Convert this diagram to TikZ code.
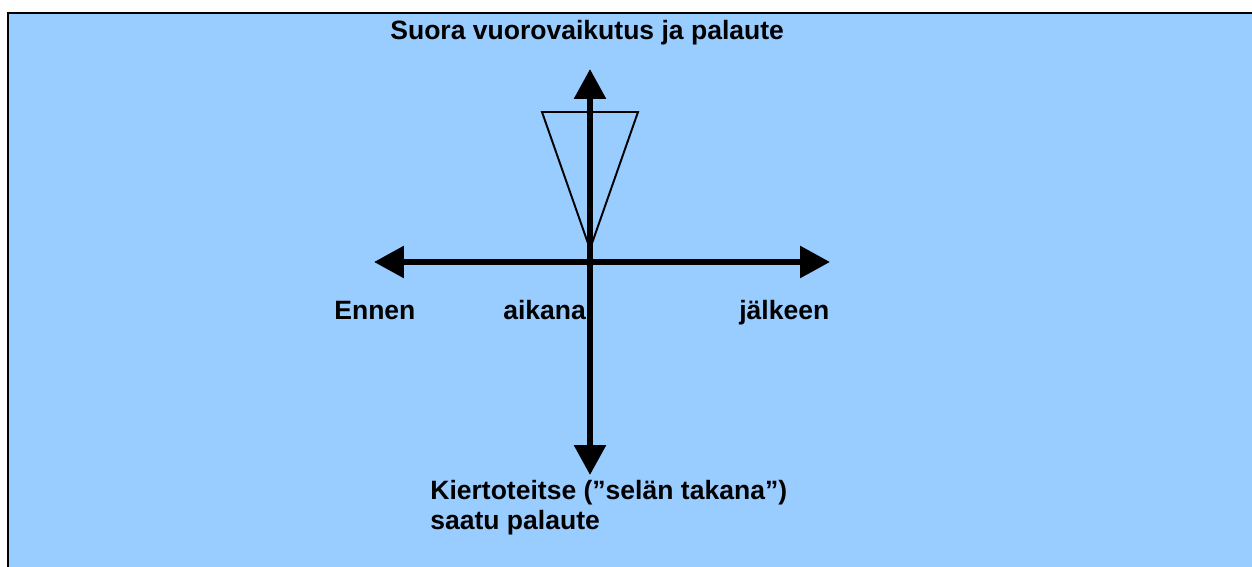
\documentclass[tikz,border=0pt]{standalone}
\usepackage{fontspec}
\setmainfont{Liberation Sans}
\usetikzlibrary{arrows.meta}
\definecolor{bgblue}{HTML}{99CCFF}
\tikzset{
  axisline/.style={line width=3.4pt, -{Triangle[length=0.6cm,width=0.62cm]}},
  thinline/.style={line width=1.1pt},
  lbl/.style={font=\fontsize{15.1}{18}\selectfont\bfseries, inner sep=0pt, anchor=base west}
}
\begin{document}
\begin{tikzpicture}[x=0.02cm,y=-0.02cm]
\useasboundingbox (0,0) rectangle (1252,567);
% background panel
\fill[bgblue] (8,13) rectangle (1252,567);
\draw[line width=1.5pt] (8,567) -- (8,13) -- (1252,13);
% axis points
\coordinate (o) at (590,262);
\coordinate (up) at (590,69);
\coordinate (down) at (590,475);
\coordinate (left) at (374,262);
\coordinate (right) at (830,262);
% triangle
\coordinate (tl) at (542,112);
\coordinate (tr) at (638,112);
\coordinate (apex) at (590,249);
\draw[thinline, line join=miter] (tl) -- (tr) -- (apex) -- cycle;
% axes
\draw[axisline] (o) -- (up);
\draw[axisline] (o) -- (down);
\draw[axisline] (o) -- (left);
\draw[axisline] (o) -- (right);
% labels
\node[lbl] (top) at (390,40) {Suora vuorovaikutus ja palaute};
\node[lbl] (ennen) at (334,320) {Ennen};
\node[lbl] (aikana) at (503,320) {aikana};
\node[lbl] (jalkeen) at (739,320) {jälkeen};
\node[lbl] (kierto) at (430,500) {Kiertoteitse (”selän takana”)};
\node[lbl] (saatu) at (430,530) {saatu palaute};
\end{tikzpicture}
\end{document}
